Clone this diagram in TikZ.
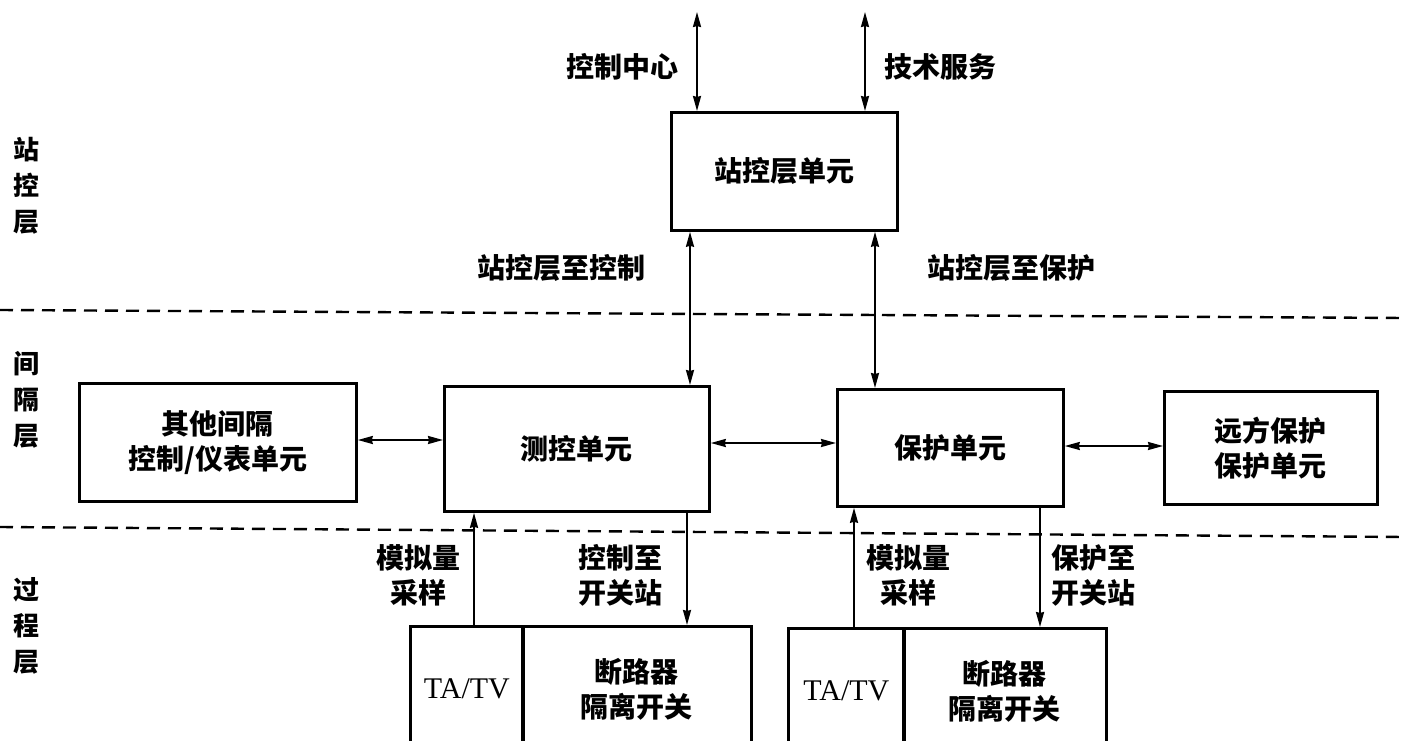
\documentclass[tikz,border=0pt]{standalone}
\usepackage{fontspec}
\setmainfont{Liberation Serif}
\newfontfamily\cjk{Noto Sans CJK SC}
\usetikzlibrary{arrows.meta,calc}
\begin{document}
\begin{tikzpicture}[x=1pt,y=-1pt,
  box/.style={draw,line width=2.8pt,inner sep=0pt,anchor=north west},
  lbl/.style={font=\cjk\bfseries\fontsize{28}{35}\selectfont,align=center,inner sep=0pt},
  side/.style={font=\cjk\bfseries\fontsize{26}{36}\selectfont,align=center,inner sep=0pt},
  conn/.style={line width=1.9pt},
  tip/.style={-{Stealth[length=15pt,width=8pt,inset=1pt]}},
  tips/.style={{Stealth[length=15pt,width=8pt,inset=1pt]}-{Stealth[length=15pt,width=8pt,inset=1pt]}},
  sep/.style={line width=2.4pt,dash pattern=on 13pt off 8pt}]
\useasboundingbox (0,0) rectangle (1405,741);
\fill[white] (0,0) rectangle (1405,741);

% layer separators
\draw[sep] (0,310) -- (1405,318);
\draw[sep] (0,527) -- (1405,537);

% side labels
\node[side] (l1) at (26,186) {站\\控\\层};
\node[side] (l2) at (26,400) {间\\隔\\层};
\node[side] (l3) at (26,626) {过\\程\\层};

% boxes
\node[box,minimum width=226pt,minimum height=118pt] (st) at (670,111) {};
\node[lbl] at (st.center) {站控层单元};
\node[box,minimum width=277pt,minimum height=118pt] (ot) at (78,382) {};
\node[lbl] at (ot.center) {其他间隔\\控制/仪表单元};
\node[box,minimum width=265pt,minimum height=125pt] (ck) at (443,385) {};
\node[lbl] at (ck.center) {测控单元};
\node[box,minimum width=226pt,minimum height=117pt] (bh) at (836,388) {};
\node[lbl] at (bh.center) {保护单元};
\node[box,minimum width=213pt,minimum height=113pt] (yf) at (1163,390) {};
\node[lbl] at (yf.center) {远方保护\\保护单元};

\node[box,minimum width=113pt,minimum height=125pt] (t1) at (409,625) {};
\node[font=\fontsize{30}{34}\selectfont] at (t1.center) {TA/TV};
\node[box,minimum width=229pt,minimum height=125pt] (c1) at (521,625) {};
\node[lbl] at (c1.center) {断路器\\隔离开关};
\node[box,minimum width=116pt,minimum height=125pt] (t2) at (787,627) {};
\node[font=\fontsize{30}{34}\selectfont] at (t2.center) {TA/TV};
\node[box,minimum width=203pt,minimum height=125pt] (c2) at (902,627) {};
\node[lbl] at (c2.center) {断路器\\隔离开关};

% x positions of vertical connectors, free ends
\coordinate (xa) at (697,12);
\coordinate (xb) at (865,12);
\coordinate (xc) at (690,0);
\coordinate (xd) at (875,0);
\coordinate (xe) at (474,0);
\coordinate (xf) at (687,0);
\coordinate (xg) at (854,0);
\coordinate (xh) at (1040,0);

% connectors
\draw[conn,tips] (xa) -- (st.north -| xa);
\draw[conn,tips] (xb) -- (st.north -| xb);
\draw[conn,tips] (st.south -| xc) -- (ck.north -| xc);
\draw[conn,tips] (st.south -| xd) -- (bh.north -| xd);
\draw[conn,tips] (ot.east |- 0,440) -- (ck.west |- 0,440);
\draw[conn,tips] (ck.east |- 0,443) -- (bh.west |- 0,443);
\draw[conn,tips] (bh.east |- 0,446) -- (yf.west |- 0,446);
\draw[conn,tip] (t1.north -| xe) -- (ck.south -| xe);
\draw[conn,tip] (ck.south -| xf) -- (c1.north -| xf);
\draw[conn,tip] (t2.north -| xg) -- (bh.south -| xg);
\draw[conn,tip] (bh.south -| xh) -- (c2.north -| xh);

% connector labels
\node[lbl] at (622,67) {控制中心};
\node[lbl] at (940,67) {技术服务};
\node[lbl] at (561,268) {站控层至控制};
\node[lbl] at (1011,268) {站控层至保护};
\node[lbl] at (418,575) {模拟量\\采样};
\node[lbl] at (620,575) {控制至\\开关站};
\node[lbl] at (908,575) {模拟量\\采样};
\node[lbl] at (1093,575) {保护至\\开关站};
\end{tikzpicture}
\end{document}
